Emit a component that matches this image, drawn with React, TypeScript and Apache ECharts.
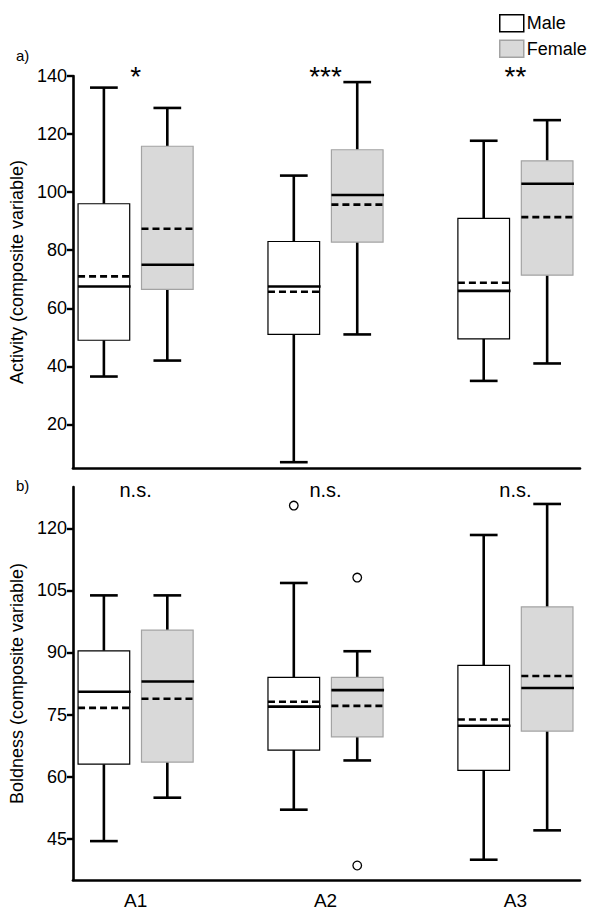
import React, { useEffect, useRef } from 'react';
import * as echarts from 'echarts';

const categories = ['A1', 'A2', 'A3'];
const sexes = ['Male', 'Female'];
// each row: [lower whisker, Q1, median, Q3, upper whisker, mean]
const activityMale = [
  [36.5, 49, 67.5, 96, 136, 71],
  [7, 51, 67.5, 83, 105.7, 65.7],
  [35, 49.5, 66, 91, 117.7, 68.8],
];
const activityFemale = [
  [42, 66.5, 75, 115.8, 129, 87.4],
  [51, 82.8, 99, 114.6, 137.9, 95.7],
  [41, 71.4, 102.9, 110.8, 124.8, 91.4],
];
const boldnessMale = [
  [44.4, 63, 80.5, 90.4, 103.8, 76.6],
  [52, 66.4, 76.9, 84, 106.8, 78.1],
  [39.9, 61.5, 72.3, 86.9, 118.4, 73.8],
];
const boldnessFemale = [
  [54.9, 63.5, 83, 95.4, 103.8, 78.8],
  [63.9, 69.6, 80.9, 84, 90.3, 77.1],
  [47, 71, 81.4, 101, 125.9, 84.3],
];
const activityMaleOutliers: number[][] = [[], [], []];
const activityFemaleOutliers: number[][] = [[], [], []];
const boldnessMaleOutliers: number[][] = [[], [125.5], []];
const boldnessFemaleOutliers: number[][] = [[], [108.1, 38.5], []];
const activitySignificance = ['*', '***', '**'];
const boldnessSignificance = ['n.s.', 'n.s.', 'n.s.'];
const activityTicks = [20, 40, 60, 80, 100, 120, 140];
const boldnessTicks = [45, 60, 75, 90, 105, 120];
const activityRange = [5, 140];
const boldnessRange = [35, 130];
const categoryPositions = [1, 2, 3];

const FONT = '"Liberation Sans", Arial, sans-serif';
const GROUP_OFFSET = 0.167;
const BOX_HALF = 0.136;
const CAP_HALF = 0.073;
const MALE_FILL = '#ffffff';
const MALE_STROKE = '#000000';
const FEMALE_FILL = '#d9d9d9';
const FEMALE_STROKE = '#a3a3a3';

function boxSeries(
  name: string,
  stats: number[][],
  outliers: number[][],
  offset: number,
  fill: string,
  stroke: string,
  gridIdx: number
) {
  return {
    name,
    type: 'custom',
    xAxisIndex: gridIdx,
    yAxisIndex: gridIdx,
    itemStyle: { color: fill, borderColor: stroke },
    encode: { x: 0, y: [1, 2, 3, 4, 5, 6] },
    data: stats.map((s, i) => [categoryPositions[i] + offset, ...s]),
    renderItem: (params: any, api: any) => {
      const x = api.value(0);
      const lo = api.value(1);
      const q1 = api.value(2);
      const med = api.value(3);
      const q3 = api.value(4);
      const hi = api.value(5);
      const mean = api.value(6);
      const c = (v: number) => api.coord([x, v]);
      const cx = c(med)[0];
      const half = api.size([BOX_HALF, 0])[0];
      const cap = api.size([CAP_HALF, 0])[0];
      const yLo = c(lo)[1];
      const yQ1 = c(q1)[1];
      const yMed = c(med)[1];
      const yQ3 = c(q3)[1];
      const yHi = c(hi)[1];
      const yMean = c(mean)[1];
      const ls = { stroke: '#000', lineWidth: 2.6 };
      const children: any[] = [
        { type: 'line', shape: { x1: cx, y1: yQ3, x2: cx, y2: yHi }, style: ls },
        { type: 'line', shape: { x1: cx, y1: yQ1, x2: cx, y2: yLo }, style: ls },
        { type: 'line', shape: { x1: cx - cap, y1: yHi, x2: cx + cap, y2: yHi }, style: ls },
        { type: 'line', shape: { x1: cx - cap, y1: yLo, x2: cx + cap, y2: yLo }, style: ls },
        {
          type: 'rect',
          shape: { x: cx - half, y: yQ3, width: half * 2, height: yQ1 - yQ3 },
          style: { fill, stroke, lineWidth: 1.2 },
        },
        {
          type: 'line',
          shape: { x1: cx - half, y1: yMed, x2: cx + half + 1, y2: yMed },
          style: { stroke: '#000', lineWidth: 2.6 },
        },
        {
          type: 'line',
          shape: { x1: cx - half, y1: yMean, x2: cx + half, y2: yMean },
          style: { stroke: '#000', lineWidth: 2.6, lineDash: [7, 4] },
        },
      ];
      (outliers[params.dataIndex] || []).forEach((v) => {
        const p = c(v);
        children.push({
          type: 'circle',
          shape: { cx: p[0], cy: p[1], r: 4.3 },
          style: { fill: '#fff', stroke: '#000', lineWidth: 1.3 },
        });
      });
      return { type: 'group', children };
    },
  };
}

function sigSeries(labels: string[], top: number, gridIdx: number, dy: number, fontSize: number) {
  return {
    type: 'custom',
    xAxisIndex: gridIdx,
    yAxisIndex: gridIdx,
    silent: true,
    encode: { x: 0, y: 1 },
    data: labels.map((_, i) => [categoryPositions[i], top]),
    renderItem: (params: any, api: any) => {
      const p = api.coord([api.value(0), api.value(1)]);
      return {
        type: 'text',
        x: p[0],
        y: p[1] + dy,
        style: {
          text: labels[params.dataIndex],
          fill: '#000',
          font: `${fontSize}px ${FONT}`,
          align: 'center',
          verticalAlign: 'middle',
        },
      };
    },
  };
}

function yAxis(gridIndex: number, range: number[], ticks: number[], name: string) {
  return {
    type: 'value',
    gridIndex,
    min: range[0],
    max: range[1],
    name,
    nameLocation: 'middle',
    nameGap: 41,
    nameTextStyle: { color: '#000', fontSize: 18, fontFamily: FONT },
    axisLine: { show: true, lineStyle: { color: '#000', width: 2.6 } },
    axisTick: { show: true, length: 6, lineStyle: { color: '#000', width: 2.4 }, customValues: ticks },
    axisLabel: { color: '#000', fontSize: 18, fontFamily: FONT, margin: 6, customValues: ticks },
    splitLine: { show: false },
  };
}

function xAxis(gridIndex: number, showLabels: boolean) {
  return {
    type: 'value',
    gridIndex,
    min: 0.67,
    max: 3.34,
    axisLine: { show: true, onZero: false, lineStyle: { color: '#000', width: 2.6 } },
    axisTick: { show: false },
    axisLabel: {
      show: showLabels,
      color: '#000',
      fontSize: 19,
      fontFamily: FONT,
      margin: 11,
      customValues: categoryPositions,
      formatter: (v: number) => categories[Math.round(v) - 1] ?? '',
    },
    splitLine: { show: false },
  };
}

export default function App() {
  const ref = useRef<HTMLDivElement>(null);
  useEffect(() => {
    document.body.style.margin = '0';
    if (!ref.current) return;
    const chart = echarts.init(ref.current, undefined, { renderer: 'svg' });
    chart.setOption({
      animation: false,
      backgroundColor: '#fff',
      textStyle: { fontFamily: FONT },
      grid: [
        { left: 69, right: 20, top: 76, height: 392 },
        { left: 69, right: 20, top: 487, height: 393 },
      ],
      xAxis: [xAxis(0, false), xAxis(1, true)],
      yAxis: [
        yAxis(0, activityRange, activityTicks, 'Activity (composite variable)'),
        yAxis(1, boldnessRange, boldnessTicks, 'Boldness (composite variable)'),
      ],
      legend: {
        orient: 'vertical',
        left: 494,
        top: 9,
        itemWidth: 24,
        itemHeight: 17,
        itemGap: 7,
        icon: 'rect',
        textStyle: { color: '#000', fontSize: 18, fontFamily: FONT, padding: [0, 0, 0, -2] },
        data: [
          { name: sexes[0], itemStyle: { color: MALE_FILL, borderColor: MALE_STROKE, borderWidth: 1.5 } },
          { name: sexes[1], itemStyle: { color: FEMALE_FILL, borderColor: FEMALE_STROKE, borderWidth: 1.5 } },
        ],
      },
      graphic: [
        { type: 'text', left: 16, top: 48, style: { text: 'a)', font: `15px ${FONT}`, fill: '#000' } },
        { type: 'text', left: 16, top: 478, style: { text: 'b)', font: `15px ${FONT}`, fill: '#000' } },
      ],
      series: [
        boxSeries(sexes[0], activityMale, activityMaleOutliers, -GROUP_OFFSET, MALE_FILL, MALE_STROKE, 0),
        boxSeries(sexes[1], activityFemale, activityFemaleOutliers, GROUP_OFFSET, FEMALE_FILL, FEMALE_STROKE, 0),
        boxSeries(sexes[0], boldnessMale, boldnessMaleOutliers, -GROUP_OFFSET, MALE_FILL, MALE_STROKE, 1),
        boxSeries(sexes[1], boldnessFemale, boldnessFemaleOutliers, GROUP_OFFSET, FEMALE_FILL, FEMALE_STROKE, 1),
        sigSeries(activitySignificance, activityRange[1], 0, 0, 28),
        sigSeries(boldnessSignificance, boldnessRange[1], 1, 3, 20),
      ],
    });
    return () => chart.dispose();
  }, []);
  return <div ref={ref} style={{ width: 600, height: 918 }} />;
}
